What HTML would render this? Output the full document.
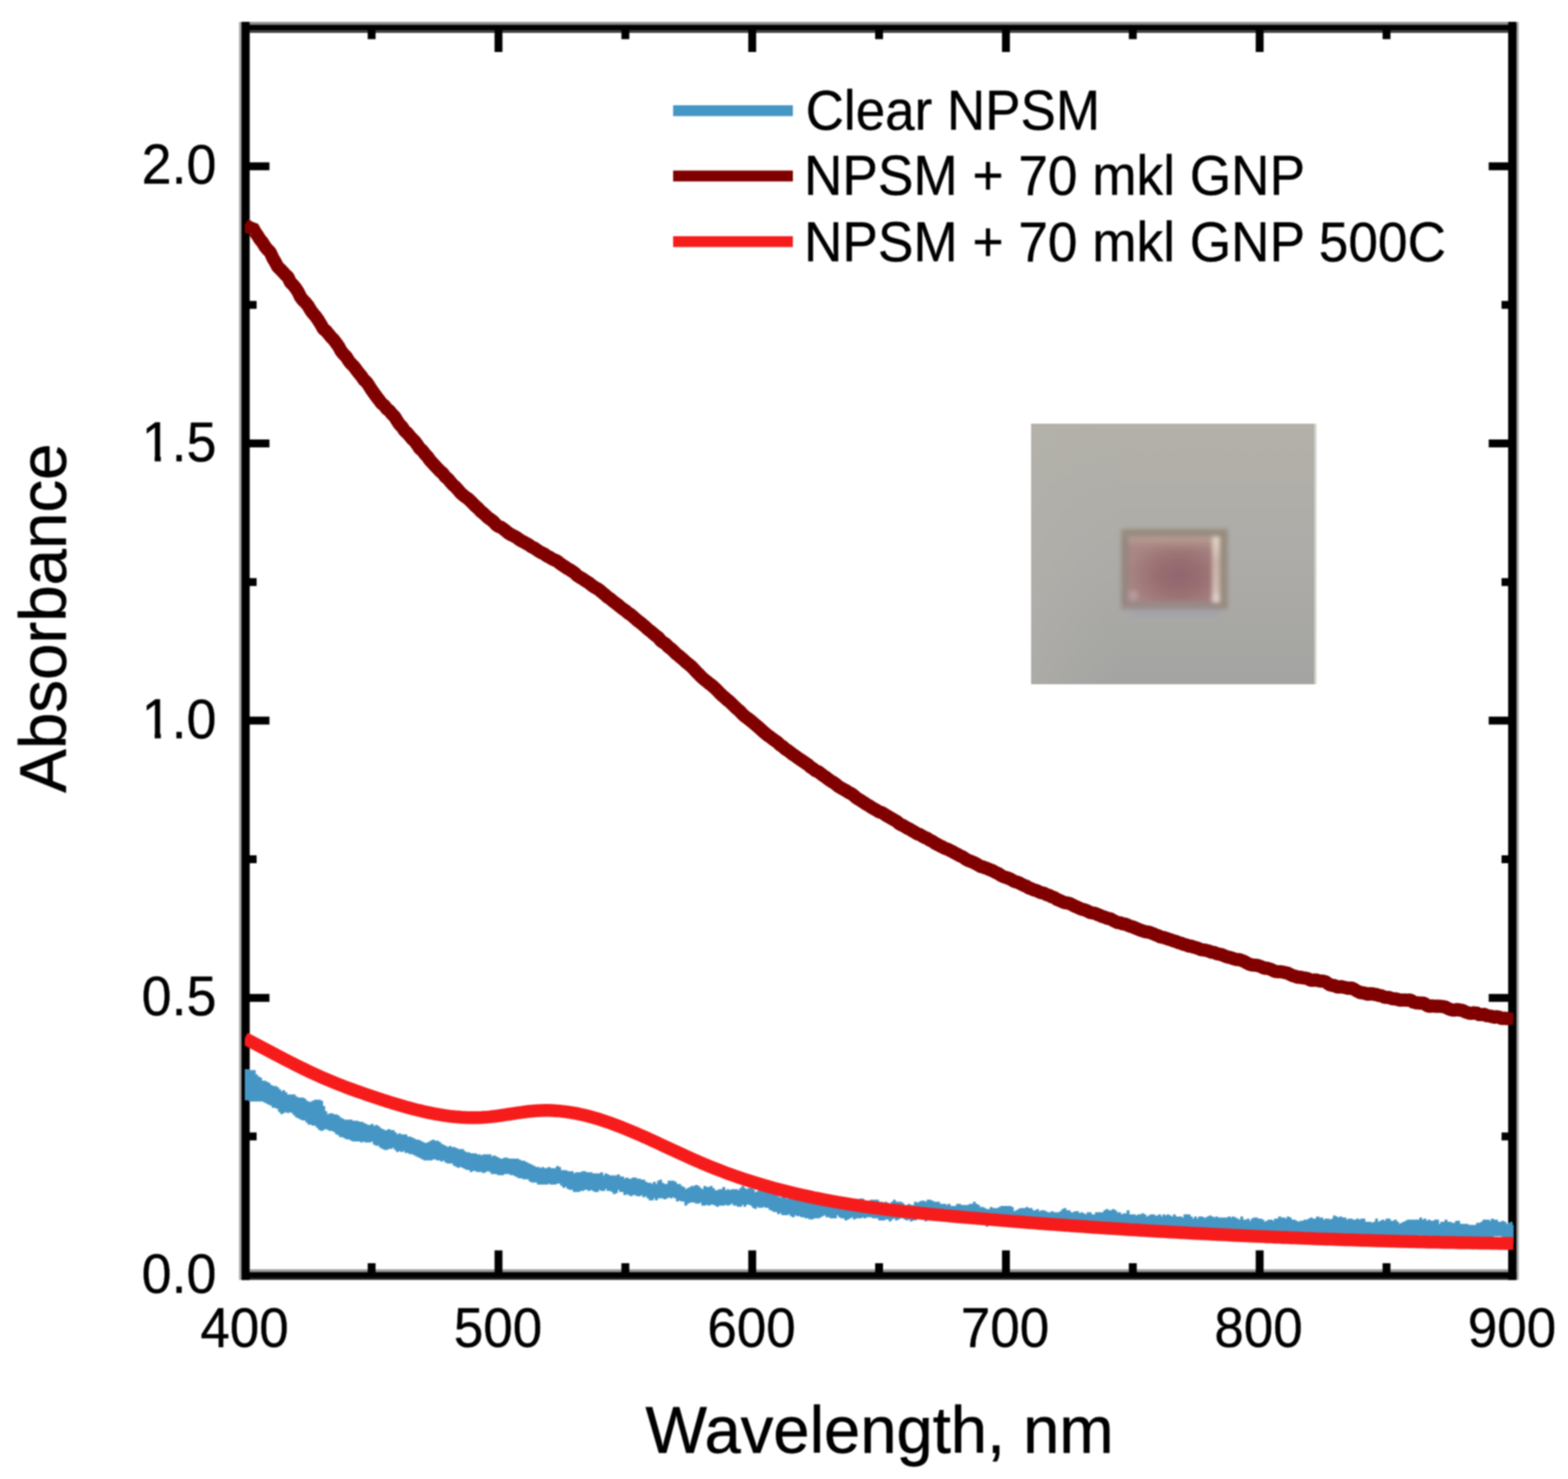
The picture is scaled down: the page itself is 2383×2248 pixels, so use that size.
<!DOCTYPE html>
<html lang="en"><head><meta charset="utf-8"><title>Absorbance vs Wavelength</title>
<style>html,body{margin:0;padding:0;background:#fff}body{width:2383px;height:2248px;overflow:hidden}svg{display:block;filter:blur(1.1px)}text{font-family:"Liberation Sans",sans-serif;fill:#000}</style>
</head><body>
<svg width="2383" height="2248" viewBox="0 0 2383 2248" role="img" aria-label="Absorbance versus wavelength chart">
<rect width="2383" height="2248" fill="#fff"/>
<defs>
<linearGradient id="pg" x1="0" y1="0" x2="0" y2="1"><stop offset="0" stop-color="#b3b1a9"/><stop offset="0.5" stop-color="#adaca8"/><stop offset="1" stop-color="#a4a4a2"/></linearGradient>
<radialGradient id="sg" cx="0.6" cy="0.6" r="0.62"><stop offset="0" stop-color="#90666f"/><stop offset="0.45" stop-color="#9a6f72"/><stop offset="0.8" stop-color="#a27e7d"/><stop offset="1" stop-color="#a98684"/></radialGradient>
<linearGradient id="tg" x1="0" y1="0" x2="0" y2="1"><stop offset="0" stop-color="#b8a296" stop-opacity="1"/><stop offset="0.5" stop-color="#b09088" stop-opacity="0.7"/><stop offset="1" stop-color="#a88484" stop-opacity="0"/></linearGradient>
<linearGradient id="rg" x1="0" y1="0" x2="0" y2="1"><stop offset="0" stop-color="#e4d8c8"/><stop offset="0.4" stop-color="#ccb4aa"/><stop offset="0.8" stop-color="#d2bcb4"/><stop offset="1" stop-color="#e6dad6"/></linearGradient>
<linearGradient id="pg2" x1="0" y1="0" x2="1" y2="0"><stop offset="0" stop-color="#b4b2ac" stop-opacity="0.5"/><stop offset="0.3" stop-color="#b0b0aa" stop-opacity="0"/><stop offset="1" stop-color="#b0b0aa" stop-opacity="0"/></linearGradient>
<filter id="b6" x="-20%" y="-20%" width="140%" height="140%"><feGaussianBlur stdDeviation="3.2"/></filter>
<clipPath id="pc"><rect x="1567" y="644" width="434" height="396"/></clipPath>
<clipPath id="ax"><rect x="372" y="42" width="1928.3" height="1896"/></clipPath>
</defs>
<g id="photo">
<rect x="1567" y="644" width="434" height="396" fill="url(#pg)"/>
<rect x="1567" y="644" width="434" height="396" fill="url(#pg2)"/>
<rect x="1997.5" y="644" width="3.5" height="396" fill="#d6d6d2"/>
<g clip-path="url(#pc)"><g filter="url(#b6)">
<rect x="1718" y="924" width="136" height="12" fill="#a5a1a9"/>
<rect x="1704" y="804" width="162" height="122" fill="#978b7f"/>
<rect x="1704" y="914" width="150" height="12" fill="#9a8989"/>
<rect x="1704" y="817" width="11" height="100" fill="#958680"/>
<rect x="1715" y="816" width="128" height="98" fill="url(#sg)"/>
<rect x="1715" y="816" width="128" height="22" fill="url(#tg)"/>
<rect x="1715" y="898" width="14" height="14" fill="#b39a9c"/>
<rect x="1842.5" y="816" width="11" height="99" fill="url(#rg)"/>
</g></g></g>
<g id="frame">
<rect x="363.3" y="33.4" width="3.9" height="1911.9" fill="#a6a6a6"/>
<rect x="367" y="33.4" width="12.3" height="1911.9" fill="#000"/>
<rect x="2304.3" y="33.4" width="3.9" height="1911.9" fill="#a6a6a6"/>
<rect x="2292.2" y="33.4" width="12.3" height="1911.9" fill="#000"/>
<rect x="367" y="33.4" width="1937.5" height="4.3" fill="#8a8a8a"/>
<rect x="367" y="37.6" width="1937.5" height="8.8" fill="#000"/>
<rect x="367" y="46.2" width="1937.5" height="3.8" fill="#404040"/>
<rect x="367" y="1929.3" width="1937.5" height="4.4" fill="#999"/>
<rect x="367" y="1933.5" width="1937.5" height="8.5" fill="#000"/>
<rect x="367" y="1941.8" width="1937.5" height="3.5" fill="#222"/>
<rect x="367" y="33.4" width="12.3" height="1911.9" fill="#000"/>
<rect x="2292.2" y="33.4" width="12.3" height="1911.9" fill="#000"/>
</g>
<g id="ticks" stroke="#000" stroke-width="12" fill="none">
<line x1="564.8" y1="1938.0" x2="564.8" y2="1920.0"/>
<line x1="564.8" y1="41.5" x2="564.8" y2="59.5"/>
<line x1="757.6" y1="1938.0" x2="757.6" y2="1900.5"/>
<line x1="757.6" y1="41.5" x2="757.6" y2="79.0"/>
<line x1="950.4" y1="1938.0" x2="950.4" y2="1920.0"/>
<line x1="950.4" y1="41.5" x2="950.4" y2="59.5"/>
<line x1="1143.2" y1="1938.0" x2="1143.2" y2="1900.5"/>
<line x1="1143.2" y1="41.5" x2="1143.2" y2="79.0"/>
<line x1="1336.0" y1="1938.0" x2="1336.0" y2="1920.0"/>
<line x1="1336.0" y1="41.5" x2="1336.0" y2="59.5"/>
<line x1="1528.8" y1="1938.0" x2="1528.8" y2="1900.5"/>
<line x1="1528.8" y1="41.5" x2="1528.8" y2="79.0"/>
<line x1="1721.6" y1="1938.0" x2="1721.6" y2="1920.0"/>
<line x1="1721.6" y1="41.5" x2="1721.6" y2="59.5"/>
<line x1="1914.4" y1="1938.0" x2="1914.4" y2="1900.5"/>
<line x1="1914.4" y1="41.5" x2="1914.4" y2="79.0"/>
<line x1="2107.2" y1="1938.0" x2="2107.2" y2="1920.0"/>
<line x1="2107.2" y1="41.5" x2="2107.2" y2="59.5"/>
<line x1="372.0" y1="1727.3" x2="390.0" y2="1727.3"/>
<line x1="2300.0" y1="1727.3" x2="2282.0" y2="1727.3"/>
<line x1="372.0" y1="1516.7" x2="409.5" y2="1516.7"/>
<line x1="2300.0" y1="1516.7" x2="2262.5" y2="1516.7"/>
<line x1="372.0" y1="1306.0" x2="390.0" y2="1306.0"/>
<line x1="2300.0" y1="1306.0" x2="2282.0" y2="1306.0"/>
<line x1="372.0" y1="1095.3" x2="409.5" y2="1095.3"/>
<line x1="2300.0" y1="1095.3" x2="2262.5" y2="1095.3"/>
<line x1="372.0" y1="884.7" x2="390.0" y2="884.7"/>
<line x1="2300.0" y1="884.7" x2="2282.0" y2="884.7"/>
<line x1="372.0" y1="674.0" x2="409.5" y2="674.0"/>
<line x1="2300.0" y1="674.0" x2="2262.5" y2="674.0"/>
<line x1="372.0" y1="463.4" x2="390.0" y2="463.4"/>
<line x1="2300.0" y1="463.4" x2="2282.0" y2="463.4"/>
<line x1="372.0" y1="252.7" x2="409.5" y2="252.7"/>
<line x1="2300.0" y1="252.7" x2="2262.5" y2="252.7"/>
</g>
<g id="curves" clip-path="url(#ax)" fill="none" stroke-linejoin="bevel" stroke-linecap="butt">
<polygon points="372.0,1625.6 375.2,1625.6 375.2,1625.6 378.4,1625.6 378.4,1627.2 381.6,1627.2 381.6,1627.2 384.8,1627.2 384.8,1627.2 388.0,1627.2 388.0,1633.6 391.2,1633.6 391.2,1636.8 394.4,1636.8 394.4,1638.4 397.6,1638.4 397.6,1643.2 400.8,1643.2 400.8,1643.2 404.0,1643.2 404.0,1644.8 407.2,1644.8 407.2,1646.4 410.4,1646.4 410.4,1649.6 413.6,1649.6 413.6,1651.2 416.8,1651.2 416.8,1651.2 420.0,1651.2 420.0,1652.8 423.2,1652.8 423.2,1656.0 426.4,1656.0 426.4,1659.2 429.6,1659.2 429.6,1657.6 432.8,1657.6 432.8,1660.8 436.0,1660.8 436.0,1664.0 439.2,1664.0 439.2,1664.0 442.4,1664.0 442.4,1664.0 445.6,1664.0 445.6,1664.0 448.8,1664.0 448.8,1667.2 452.0,1667.2 452.0,1668.8 455.2,1668.8 455.2,1668.8 458.4,1668.8 458.4,1668.8 461.6,1668.8 461.6,1670.4 464.8,1670.4 464.8,1673.6 468.0,1673.6 468.0,1675.2 471.2,1675.2 471.2,1675.2 474.4,1675.2 474.4,1673.6 477.6,1673.6 477.6,1672.0 480.8,1672.0 480.8,1672.0 484.0,1672.0 484.0,1672.0 487.2,1672.0 487.2,1673.6 490.4,1673.6 490.4,1681.6 493.6,1681.6 493.6,1689.6 496.8,1689.6 496.8,1694.4 500.0,1694.4 500.0,1692.8 503.2,1692.8 503.2,1692.8 506.4,1692.8 506.4,1694.4 509.6,1694.4 509.6,1694.4 512.8,1694.4 512.8,1696.0 516.0,1696.0 516.0,1699.2 519.2,1699.2 519.2,1700.8 522.4,1700.8 522.4,1702.4 525.6,1702.4 525.6,1702.4 528.8,1702.4 528.8,1702.4 532.0,1702.4 532.0,1702.4 535.2,1702.4 535.2,1704.0 538.4,1704.0 538.4,1704.0 541.6,1704.0 541.6,1704.0 544.8,1704.0 544.8,1705.6 548.0,1705.6 548.0,1705.6 551.2,1705.6 551.2,1707.2 554.4,1707.2 554.4,1708.8 557.6,1708.8 557.6,1710.4 560.8,1710.4 560.8,1710.4 564.0,1710.4 564.0,1708.8 567.2,1708.8 567.2,1712.0 570.4,1712.0 570.4,1710.4 573.6,1710.4 573.6,1712.0 576.8,1712.0 576.8,1715.2 580.0,1715.2 580.0,1716.8 583.2,1716.8 583.2,1718.4 586.4,1718.4 586.4,1718.4 589.6,1718.4 589.6,1716.8 592.8,1716.8 592.8,1718.4 596.0,1718.4 596.0,1718.4 599.2,1718.4 599.2,1721.6 602.4,1721.6 602.4,1724.8 605.6,1724.8 605.6,1723.2 608.8,1723.2 608.8,1724.8 612.0,1724.8 612.0,1724.8 615.2,1724.8 615.2,1724.8 618.4,1724.8 618.4,1728.0 621.6,1728.0 621.6,1728.0 624.8,1728.0 624.8,1729.6 628.0,1729.6 628.0,1731.2 631.2,1731.2 631.2,1732.8 634.4,1732.8 634.4,1732.8 637.6,1732.8 637.6,1734.4 640.8,1734.4 640.8,1736.0 644.0,1736.0 644.0,1737.6 647.2,1737.6 647.2,1737.6 650.4,1737.6 650.4,1736.0 653.6,1736.0 653.6,1734.4 656.8,1734.4 656.8,1732.8 660.0,1732.8 660.0,1734.4 663.2,1734.4 663.2,1734.4 666.4,1734.4 666.4,1736.0 669.6,1736.0 669.6,1739.2 672.8,1739.2 672.8,1740.8 676.0,1740.8 676.0,1742.4 679.2,1742.4 679.2,1744.0 682.4,1744.0 682.4,1742.4 685.6,1742.4 685.6,1744.0 688.8,1744.0 688.8,1744.0 692.0,1744.0 692.0,1745.6 695.2,1745.6 695.2,1747.2 698.4,1747.2 698.4,1747.2 701.6,1747.2 701.6,1747.2 704.8,1747.2 704.8,1750.4 708.0,1750.4 708.0,1752.0 711.2,1752.0 711.2,1752.0 714.4,1752.0 714.4,1753.6 717.6,1753.6 717.6,1753.6 720.8,1753.6 720.8,1753.6 724.0,1753.6 724.0,1755.2 727.2,1755.2 727.2,1755.2 730.4,1755.2 730.4,1756.8 733.6,1756.8 733.6,1755.2 736.8,1755.2 736.8,1755.2 740.0,1755.2 740.0,1755.2 743.2,1755.2 743.2,1755.2 746.4,1755.2 746.4,1758.4 749.6,1758.4 749.6,1756.8 752.8,1756.8 752.8,1758.4 756.0,1758.4 756.0,1760.0 759.2,1760.0 759.2,1761.6 762.4,1761.6 762.4,1761.6 765.6,1761.6 765.6,1760.0 768.8,1760.0 768.8,1760.0 772.0,1760.0 772.0,1761.6 775.2,1761.6 775.2,1761.6 778.4,1761.6 778.4,1761.6 781.6,1761.6 781.6,1761.6 784.8,1761.6 784.8,1761.6 788.0,1761.6 788.0,1763.2 791.2,1763.2 791.2,1764.8 794.4,1764.8 794.4,1764.8 797.6,1764.8 797.6,1766.4 800.8,1766.4 800.8,1768.0 804.0,1768.0 804.0,1769.6 807.2,1769.6 807.2,1771.2 810.4,1771.2 810.4,1772.8 813.6,1772.8 813.6,1774.4 816.8,1774.4 816.8,1774.4 820.0,1774.4 820.0,1776.0 823.2,1776.0 823.2,1774.4 826.4,1774.4 826.4,1776.0 829.6,1776.0 829.6,1776.0 832.8,1776.0 832.8,1774.4 836.0,1774.4 836.0,1776.0 839.2,1776.0 839.2,1776.0 842.4,1776.0 842.4,1776.0 845.6,1776.0 845.6,1772.8 848.8,1772.8 848.8,1774.4 852.0,1774.4 852.0,1779.2 855.2,1779.2 855.2,1779.2 858.4,1779.2 858.4,1779.2 861.6,1779.2 861.6,1780.8 864.8,1780.8 864.8,1780.8 868.0,1780.8 868.0,1780.8 871.2,1780.8 871.2,1784.0 874.4,1784.0 874.4,1782.4 877.6,1782.4 877.6,1782.4 880.8,1782.4 880.8,1782.4 884.0,1782.4 884.0,1780.8 887.2,1780.8 887.2,1780.8 890.4,1780.8 890.4,1782.4 893.6,1782.4 893.6,1782.4 896.8,1782.4 896.8,1782.4 900.0,1782.4 900.0,1784.0 903.2,1784.0 903.2,1784.0 906.4,1784.0 906.4,1784.0 909.6,1784.0 909.6,1784.0 912.8,1784.0 912.8,1782.4 916.0,1782.4 916.0,1787.2 919.2,1787.2 919.2,1784.0 922.4,1784.0 922.4,1785.6 925.6,1785.6 925.6,1787.2 928.8,1787.2 928.8,1787.2 932.0,1787.2 932.0,1787.2 935.2,1787.2 935.2,1787.2 938.4,1787.2 938.4,1785.6 941.6,1785.6 941.6,1788.8 944.8,1788.8 944.8,1788.8 948.0,1788.8 948.0,1792.0 951.2,1792.0 951.2,1790.4 954.4,1790.4 954.4,1792.0 957.6,1792.0 957.6,1792.0 960.8,1792.0 960.8,1790.4 964.0,1790.4 964.0,1790.4 967.2,1790.4 967.2,1792.0 970.4,1792.0 970.4,1792.0 973.6,1792.0 973.6,1793.6 976.8,1793.6 976.8,1793.6 980.0,1793.6 980.0,1796.8 983.2,1796.8 983.2,1798.4 986.4,1798.4 986.4,1798.4 989.6,1798.4 989.6,1800.0 992.8,1800.0 992.8,1796.8 996.0,1796.8 996.0,1800.0 999.2,1800.0 999.2,1795.2 1002.4,1795.2 1002.4,1793.6 1005.6,1793.6 1005.6,1798.4 1008.8,1798.4 1008.8,1800.0 1012.0,1800.0 1012.0,1800.0 1015.2,1800.0 1015.2,1795.2 1018.4,1795.2 1018.4,1795.2 1021.6,1795.2 1021.6,1795.2 1024.8,1795.2 1024.8,1796.8 1028.0,1796.8 1028.0,1800.0 1031.2,1800.0 1031.2,1800.0 1034.4,1800.0 1034.4,1803.2 1037.6,1803.2 1037.6,1804.8 1040.8,1804.8 1040.8,1808.0 1044.0,1808.0 1044.0,1806.4 1047.2,1806.4 1047.2,1804.8 1050.4,1804.8 1050.4,1803.2 1053.6,1803.2 1053.6,1803.2 1056.8,1803.2 1056.8,1801.6 1060.0,1801.6 1060.0,1803.2 1063.2,1803.2 1063.2,1806.4 1066.4,1806.4 1066.4,1808.0 1069.6,1808.0 1069.6,1803.2 1072.8,1803.2 1072.8,1804.8 1076.0,1804.8 1076.0,1804.8 1079.2,1804.8 1079.2,1803.2 1082.4,1803.2 1082.4,1806.4 1085.6,1806.4 1085.6,1809.6 1088.8,1809.6 1088.8,1809.6 1092.0,1809.6 1092.0,1808.0 1095.2,1808.0 1095.2,1808.0 1098.4,1808.0 1098.4,1804.8 1101.6,1804.8 1101.6,1809.6 1104.8,1809.6 1104.8,1808.0 1108.0,1808.0 1108.0,1809.6 1111.2,1809.6 1111.2,1808.0 1114.4,1808.0 1114.4,1808.0 1117.6,1808.0 1117.6,1808.0 1120.8,1808.0 1120.8,1809.6 1124.0,1809.6 1124.0,1806.4 1127.2,1806.4 1127.2,1803.2 1130.4,1803.2 1130.4,1806.4 1133.6,1806.4 1133.6,1808.0 1136.8,1808.0 1136.8,1806.4 1140.0,1806.4 1140.0,1806.4 1143.2,1806.4 1143.2,1808.0 1146.4,1808.0 1146.4,1812.8 1149.6,1812.8 1149.6,1811.2 1152.8,1811.2 1152.8,1809.6 1156.0,1809.6 1156.0,1808.0 1159.2,1808.0 1159.2,1808.0 1162.4,1808.0 1162.4,1811.2 1165.6,1811.2 1165.6,1811.2 1168.8,1811.2 1168.8,1812.8 1172.0,1812.8 1172.0,1811.2 1175.2,1811.2 1175.2,1812.8 1178.4,1812.8 1178.4,1816.0 1181.6,1816.0 1181.6,1819.2 1184.8,1819.2 1184.8,1820.8 1188.0,1820.8 1188.0,1819.2 1191.2,1819.2 1191.2,1819.2 1194.4,1819.2 1194.4,1822.4 1197.6,1822.4 1197.6,1822.4 1200.8,1822.4 1200.8,1822.4 1204.0,1822.4 1204.0,1822.4 1207.2,1822.4 1207.2,1822.4 1210.4,1822.4 1210.4,1824.0 1213.6,1824.0 1213.6,1822.4 1216.8,1822.4 1216.8,1820.8 1220.0,1820.8 1220.0,1824.0 1223.2,1824.0 1223.2,1827.2 1226.4,1827.2 1226.4,1827.2 1229.6,1827.2 1229.6,1827.2 1232.8,1827.2 1232.8,1827.2 1236.0,1827.2 1236.0,1825.6 1239.2,1825.6 1239.2,1825.6 1242.4,1825.6 1242.4,1824.0 1245.6,1824.0 1245.6,1824.0 1248.8,1824.0 1248.8,1827.2 1252.0,1827.2 1252.0,1822.4 1255.2,1822.4 1255.2,1825.6 1258.4,1825.6 1258.4,1825.6 1261.6,1825.6 1261.6,1828.8 1264.8,1828.8 1264.8,1825.6 1268.0,1825.6 1268.0,1825.6 1271.2,1825.6 1271.2,1825.6 1274.4,1825.6 1274.4,1825.6 1277.6,1825.6 1277.6,1828.8 1280.8,1828.8 1280.8,1825.6 1284.0,1825.6 1284.0,1827.2 1287.2,1827.2 1287.2,1827.2 1290.4,1827.2 1290.4,1825.6 1293.6,1825.6 1293.6,1824.0 1296.8,1824.0 1296.8,1827.2 1300.0,1827.2 1300.0,1825.6 1303.2,1825.6 1303.2,1824.0 1306.4,1824.0 1306.4,1822.4 1309.6,1822.4 1309.6,1822.4 1312.8,1822.4 1312.8,1825.6 1316.0,1825.6 1316.0,1825.6 1319.2,1825.6 1319.2,1827.2 1322.4,1827.2 1322.4,1824.0 1325.6,1824.0 1325.6,1824.0 1328.8,1824.0 1328.8,1824.0 1332.0,1824.0 1332.0,1824.0 1335.2,1824.0 1335.2,1827.2 1338.4,1827.2 1338.4,1827.2 1341.6,1827.2 1341.6,1828.8 1344.8,1828.8 1344.8,1827.2 1348.0,1827.2 1348.0,1828.8 1351.2,1828.8 1351.2,1830.4 1354.4,1830.4 1354.4,1827.2 1357.6,1827.2 1357.6,1824.0 1360.8,1824.0 1360.8,1827.2 1364.0,1827.2 1364.0,1827.2 1367.2,1827.2 1367.2,1827.2 1370.4,1827.2 1370.4,1828.8 1373.6,1828.8 1373.6,1832.0 1376.8,1832.0 1376.8,1832.0 1380.0,1832.0 1380.0,1830.4 1383.2,1830.4 1383.2,1832.0 1386.4,1832.0 1386.4,1832.0 1389.6,1832.0 1389.6,1827.2 1392.8,1827.2 1392.8,1828.8 1396.0,1828.8 1396.0,1827.2 1399.2,1827.2 1399.2,1825.6 1402.4,1825.6 1402.4,1825.6 1405.6,1825.6 1405.6,1827.2 1408.8,1827.2 1408.8,1824.0 1412.0,1824.0 1412.0,1824.0 1415.2,1824.0 1415.2,1825.6 1418.4,1825.6 1418.4,1827.2 1421.6,1827.2 1421.6,1827.2 1424.8,1827.2 1424.8,1827.2 1428.0,1827.2 1428.0,1830.4 1431.2,1830.4 1431.2,1830.4 1434.4,1830.4 1434.4,1830.4 1437.6,1830.4 1437.6,1832.0 1440.8,1832.0 1440.8,1830.4 1444.0,1830.4 1444.0,1833.6 1447.2,1833.6 1447.2,1833.6 1450.4,1833.6 1450.4,1833.6 1453.6,1833.6 1453.6,1830.4 1456.8,1830.4 1456.8,1830.4 1460.0,1830.4 1460.0,1832.0 1463.2,1832.0 1463.2,1832.0 1466.4,1832.0 1466.4,1832.0 1469.6,1832.0 1469.6,1832.0 1472.8,1832.0 1472.8,1830.4 1476.0,1830.4 1476.0,1830.4 1479.2,1830.4 1479.2,1827.2 1482.4,1827.2 1482.4,1830.4 1485.6,1830.4 1485.6,1832.0 1488.8,1832.0 1488.8,1835.2 1492.0,1835.2 1492.0,1835.2 1495.2,1835.2 1495.2,1836.8 1498.4,1836.8 1498.4,1838.4 1501.6,1838.4 1501.6,1838.4 1504.8,1838.4 1504.8,1835.2 1508.0,1835.2 1508.0,1836.8 1511.2,1836.8 1511.2,1836.8 1514.4,1836.8 1514.4,1836.8 1517.6,1836.8 1517.6,1835.2 1520.8,1835.2 1520.8,1833.6 1524.0,1833.6 1524.0,1833.6 1527.2,1833.6 1527.2,1833.6 1530.4,1833.6 1530.4,1833.6 1533.6,1833.6 1533.6,1833.6 1536.8,1833.6 1536.8,1835.2 1540.0,1835.2 1540.0,1841.6 1543.2,1841.6 1543.2,1840.0 1546.4,1840.0 1546.4,1838.4 1549.6,1838.4 1549.6,1836.8 1552.8,1836.8 1552.8,1836.8 1556.0,1836.8 1556.0,1836.8 1559.2,1836.8 1559.2,1835.2 1562.4,1835.2 1562.4,1836.8 1565.6,1836.8 1565.6,1836.8 1568.8,1836.8 1568.8,1840.0 1572.0,1840.0 1572.0,1840.0 1575.2,1840.0 1575.2,1838.4 1578.4,1838.4 1578.4,1841.6 1581.6,1841.6 1581.6,1840.0 1584.8,1840.0 1584.8,1840.0 1588.0,1840.0 1588.0,1841.6 1591.2,1841.6 1591.2,1843.2 1594.4,1843.2 1594.4,1843.2 1597.6,1843.2 1597.6,1841.6 1600.8,1841.6 1600.8,1843.2 1604.0,1843.2 1604.0,1843.2 1607.2,1843.2 1607.2,1843.2 1610.4,1843.2 1610.4,1841.6 1613.6,1841.6 1613.6,1838.4 1616.8,1838.4 1616.8,1836.8 1620.0,1836.8 1620.0,1840.0 1623.2,1840.0 1623.2,1840.0 1626.4,1840.0 1626.4,1843.2 1629.6,1843.2 1629.6,1843.2 1632.8,1843.2 1632.8,1841.6 1636.0,1841.6 1636.0,1841.6 1639.2,1841.6 1639.2,1844.8 1642.4,1844.8 1642.4,1843.2 1645.6,1843.2 1645.6,1844.8 1648.8,1844.8 1648.8,1846.4 1652.0,1846.4 1652.0,1843.2 1655.2,1843.2 1655.2,1843.2 1658.4,1843.2 1658.4,1846.4 1661.6,1846.4 1661.6,1846.4 1664.8,1846.4 1664.8,1843.2 1668.0,1843.2 1668.0,1843.2 1671.2,1843.2 1671.2,1843.2 1674.4,1843.2 1674.4,1843.2 1677.6,1843.2 1677.6,1840.0 1680.8,1840.0 1680.8,1838.4 1684.0,1838.4 1684.0,1840.0 1687.2,1840.0 1687.2,1840.0 1690.4,1840.0 1690.4,1838.4 1693.6,1838.4 1693.6,1840.0 1696.8,1840.0 1696.8,1843.2 1700.0,1843.2 1700.0,1843.2 1703.2,1843.2 1703.2,1846.4 1706.4,1846.4 1706.4,1844.8 1709.6,1844.8 1709.6,1844.8 1712.8,1844.8 1712.8,1840.0 1716.0,1840.0 1716.0,1846.4 1719.2,1846.4 1719.2,1846.4 1722.4,1846.4 1722.4,1846.4 1725.6,1846.4 1725.6,1848.0 1728.8,1848.0 1728.8,1846.4 1732.0,1846.4 1732.0,1846.4 1735.2,1846.4 1735.2,1844.8 1738.4,1844.8 1738.4,1846.4 1741.6,1846.4 1741.6,1849.6 1744.8,1849.6 1744.8,1848.0 1748.0,1848.0 1748.0,1846.4 1751.2,1846.4 1751.2,1846.4 1754.4,1846.4 1754.4,1848.0 1757.6,1848.0 1757.6,1848.0 1760.8,1848.0 1760.8,1846.4 1764.0,1846.4 1764.0,1849.6 1767.2,1849.6 1767.2,1846.4 1770.4,1846.4 1770.4,1848.0 1773.6,1848.0 1773.6,1846.4 1776.8,1846.4 1776.8,1848.0 1780.0,1848.0 1780.0,1849.6 1783.2,1849.6 1783.2,1846.4 1786.4,1846.4 1786.4,1849.6 1789.6,1849.6 1789.6,1849.6 1792.8,1849.6 1792.8,1849.6 1796.0,1849.6 1796.0,1851.2 1799.2,1851.2 1799.2,1846.4 1802.4,1846.4 1802.4,1846.4 1805.6,1846.4 1805.6,1846.4 1808.8,1846.4 1808.8,1849.6 1812.0,1849.6 1812.0,1852.8 1815.2,1852.8 1815.2,1849.6 1818.4,1849.6 1818.4,1852.8 1821.6,1852.8 1821.6,1849.6 1824.8,1849.6 1824.8,1849.6 1828.0,1849.6 1828.0,1851.2 1831.2,1851.2 1831.2,1851.2 1834.4,1851.2 1834.4,1849.6 1837.6,1849.6 1837.6,1848.0 1840.8,1848.0 1840.8,1849.6 1844.0,1849.6 1844.0,1851.2 1847.2,1851.2 1847.2,1849.6 1850.4,1849.6 1850.4,1851.2 1853.6,1851.2 1853.6,1851.2 1856.8,1851.2 1856.8,1851.2 1860.0,1851.2 1860.0,1851.2 1863.2,1851.2 1863.2,1851.2 1866.4,1851.2 1866.4,1849.6 1869.6,1849.6 1869.6,1851.2 1872.8,1851.2 1872.8,1849.6 1876.0,1849.6 1876.0,1851.2 1879.2,1851.2 1879.2,1852.8 1882.4,1852.8 1882.4,1854.4 1885.6,1854.4 1885.6,1849.6 1888.8,1849.6 1888.8,1854.4 1892.0,1854.4 1892.0,1854.4 1895.2,1854.4 1895.2,1852.8 1898.4,1852.8 1898.4,1856.0 1901.6,1856.0 1901.6,1852.8 1904.8,1852.8 1904.8,1851.2 1908.0,1851.2 1908.0,1851.2 1911.2,1851.2 1911.2,1852.8 1914.4,1852.8 1914.4,1852.8 1917.6,1852.8 1917.6,1854.4 1920.8,1854.4 1920.8,1857.6 1924.0,1857.6 1924.0,1856.0 1927.2,1856.0 1927.2,1854.4 1930.4,1854.4 1930.4,1854.4 1933.6,1854.4 1933.6,1856.0 1936.8,1856.0 1936.8,1852.8 1940.0,1852.8 1940.0,1852.8 1943.2,1852.8 1943.2,1849.6 1946.4,1849.6 1946.4,1851.2 1949.6,1851.2 1949.6,1851.2 1952.8,1851.2 1952.8,1852.8 1956.0,1852.8 1956.0,1849.6 1959.2,1849.6 1959.2,1851.2 1962.4,1851.2 1962.4,1854.4 1965.6,1854.4 1965.6,1854.4 1968.8,1854.4 1968.8,1856.0 1972.0,1856.0 1972.0,1857.6 1975.2,1857.6 1975.2,1856.0 1978.4,1856.0 1978.4,1856.0 1981.6,1856.0 1981.6,1854.4 1984.8,1854.4 1984.8,1854.4 1988.0,1854.4 1988.0,1852.8 1991.2,1852.8 1991.2,1851.2 1994.4,1851.2 1994.4,1852.8 1997.6,1852.8 1997.6,1852.8 2000.8,1852.8 2000.8,1849.6 2004.0,1849.6 2004.0,1851.2 2007.2,1851.2 2007.2,1851.2 2010.4,1851.2 2010.4,1854.4 2013.6,1854.4 2013.6,1852.8 2016.8,1852.8 2016.8,1852.8 2020.0,1852.8 2020.0,1854.4 2023.2,1854.4 2023.2,1852.8 2026.4,1852.8 2026.4,1848.0 2029.6,1848.0 2029.6,1849.6 2032.8,1849.6 2032.8,1851.2 2036.0,1851.2 2036.0,1849.6 2039.2,1849.6 2039.2,1851.2 2042.4,1851.2 2042.4,1851.2 2045.6,1851.2 2045.6,1854.4 2048.8,1854.4 2048.8,1852.8 2052.0,1852.8 2052.0,1852.8 2055.2,1852.8 2055.2,1854.4 2058.4,1854.4 2058.4,1854.4 2061.6,1854.4 2061.6,1852.8 2064.8,1852.8 2064.8,1854.4 2068.0,1854.4 2068.0,1852.8 2071.2,1852.8 2071.2,1852.8 2074.4,1852.8 2074.4,1857.6 2077.6,1857.6 2077.6,1857.6 2080.8,1857.6 2080.8,1857.6 2084.0,1857.6 2084.0,1859.2 2087.2,1859.2 2087.2,1857.6 2090.4,1857.6 2090.4,1852.8 2093.6,1852.8 2093.6,1857.6 2096.8,1857.6 2096.8,1856.0 2100.0,1856.0 2100.0,1854.4 2103.2,1854.4 2103.2,1856.0 2106.4,1856.0 2106.4,1852.8 2109.6,1852.8 2109.6,1852.8 2112.8,1852.8 2112.8,1856.0 2116.0,1856.0 2116.0,1856.0 2119.2,1856.0 2119.2,1854.4 2122.4,1854.4 2122.4,1857.6 2125.6,1857.6 2125.6,1860.8 2128.8,1860.8 2128.8,1859.2 2132.0,1859.2 2132.0,1857.6 2135.2,1857.6 2135.2,1856.0 2138.4,1856.0 2138.4,1854.4 2141.6,1854.4 2141.6,1854.4 2144.8,1854.4 2144.8,1854.4 2148.0,1854.4 2148.0,1854.4 2151.2,1854.4 2151.2,1854.4 2154.4,1854.4 2154.4,1854.4 2157.6,1854.4 2157.6,1851.2 2160.8,1851.2 2160.8,1854.4 2164.0,1854.4 2164.0,1852.8 2167.2,1852.8 2167.2,1856.0 2170.4,1856.0 2170.4,1854.4 2173.6,1854.4 2173.6,1856.0 2176.8,1856.0 2176.8,1856.0 2180.0,1856.0 2180.0,1854.4 2183.2,1854.4 2183.2,1854.4 2186.4,1854.4 2186.4,1860.8 2189.6,1860.8 2189.6,1857.6 2192.8,1857.6 2192.8,1857.6 2196.0,1857.6 2196.0,1854.4 2199.2,1854.4 2199.2,1857.6 2202.4,1857.6 2202.4,1857.6 2205.6,1857.6 2205.6,1859.2 2208.8,1859.2 2208.8,1859.2 2212.0,1859.2 2212.0,1856.0 2215.2,1856.0 2215.2,1856.0 2218.4,1856.0 2218.4,1860.8 2221.6,1860.8 2221.6,1860.8 2224.8,1860.8 2224.8,1860.8 2228.0,1860.8 2228.0,1860.8 2231.2,1860.8 2231.2,1862.4 2234.4,1862.4 2234.4,1862.4 2237.6,1862.4 2237.6,1862.4 2240.8,1862.4 2240.8,1862.4 2244.0,1862.4 2244.0,1859.2 2247.2,1859.2 2247.2,1859.2 2250.4,1859.2 2250.4,1857.6 2253.6,1857.6 2253.6,1854.4 2256.8,1854.4 2256.8,1854.4 2260.0,1854.4 2260.0,1854.4 2263.2,1854.4 2263.2,1856.0 2266.4,1856.0 2266.4,1852.8 2269.6,1852.8 2269.6,1854.4 2272.8,1854.4 2272.8,1854.4 2276.0,1854.4 2276.0,1857.6 2279.2,1857.6 2279.2,1857.6 2282.4,1857.6 2282.4,1856.0 2285.6,1856.0 2285.6,1857.6 2288.8,1857.6 2288.8,1860.8 2292.0,1860.8 2292.0,1859.2 2295.2,1859.2 2295.2,1857.6 2298.4,1857.6 2298.4,1862.4 2300.4,1862.4 2300.4,1889.6 2298.4,1889.6 2298.4,1884.8 2295.2,1884.8 2295.2,1884.8 2292.0,1884.8 2292.0,1884.8 2288.8,1884.8 2288.8,1881.6 2285.6,1881.6 2285.6,1880.0 2282.4,1880.0 2282.4,1878.4 2279.2,1878.4 2279.2,1878.4 2276.0,1878.4 2276.0,1878.4 2272.8,1878.4 2272.8,1878.4 2269.6,1878.4 2269.6,1880.0 2266.4,1880.0 2266.4,1883.2 2263.2,1883.2 2263.2,1883.2 2260.0,1883.2 2260.0,1881.6 2256.8,1881.6 2256.8,1881.6 2253.6,1881.6 2253.6,1883.2 2250.4,1883.2 2250.4,1886.4 2247.2,1886.4 2247.2,1886.4 2244.0,1886.4 2244.0,1889.6 2240.8,1889.6 2240.8,1886.4 2237.6,1886.4 2237.6,1884.8 2234.4,1884.8 2234.4,1881.6 2231.2,1881.6 2231.2,1883.2 2228.0,1883.2 2228.0,1881.6 2224.8,1881.6 2224.8,1883.2 2221.6,1883.2 2221.6,1883.2 2218.4,1883.2 2218.4,1883.2 2215.2,1883.2 2215.2,1881.6 2212.0,1881.6 2212.0,1886.4 2208.8,1886.4 2208.8,1884.8 2205.6,1884.8 2205.6,1886.4 2202.4,1886.4 2202.4,1881.6 2199.2,1881.6 2199.2,1883.2 2196.0,1883.2 2196.0,1881.6 2192.8,1881.6 2192.8,1880.0 2189.6,1880.0 2189.6,1881.6 2186.4,1881.6 2186.4,1878.4 2183.2,1878.4 2183.2,1881.6 2180.0,1881.6 2180.0,1881.6 2176.8,1881.6 2176.8,1881.6 2173.6,1881.6 2173.6,1880.0 2170.4,1880.0 2170.4,1880.0 2167.2,1880.0 2167.2,1880.0 2164.0,1880.0 2164.0,1878.4 2160.8,1878.4 2160.8,1876.8 2157.6,1876.8 2157.6,1878.4 2154.4,1878.4 2154.4,1878.4 2151.2,1878.4 2151.2,1881.6 2148.0,1881.6 2148.0,1880.0 2144.8,1880.0 2144.8,1878.4 2141.6,1878.4 2141.6,1880.0 2138.4,1880.0 2138.4,1878.4 2135.2,1878.4 2135.2,1881.6 2132.0,1881.6 2132.0,1880.0 2128.8,1880.0 2128.8,1881.6 2125.6,1881.6 2125.6,1881.6 2122.4,1881.6 2122.4,1878.4 2119.2,1878.4 2119.2,1878.4 2116.0,1878.4 2116.0,1878.4 2112.8,1878.4 2112.8,1878.4 2109.6,1878.4 2109.6,1880.0 2106.4,1880.0 2106.4,1880.0 2103.2,1880.0 2103.2,1881.6 2100.0,1881.6 2100.0,1881.6 2096.8,1881.6 2096.8,1880.0 2093.6,1880.0 2093.6,1880.0 2090.4,1880.0 2090.4,1883.2 2087.2,1883.2 2087.2,1883.2 2084.0,1883.2 2084.0,1880.0 2080.8,1880.0 2080.8,1881.6 2077.6,1881.6 2077.6,1878.4 2074.4,1878.4 2074.4,1878.4 2071.2,1878.4 2071.2,1876.8 2068.0,1876.8 2068.0,1878.4 2064.8,1878.4 2064.8,1878.4 2061.6,1878.4 2061.6,1880.0 2058.4,1880.0 2058.4,1880.0 2055.2,1880.0 2055.2,1876.8 2052.0,1876.8 2052.0,1876.8 2048.8,1876.8 2048.8,1875.2 2045.6,1875.2 2045.6,1875.2 2042.4,1875.2 2042.4,1876.8 2039.2,1876.8 2039.2,1876.8 2036.0,1876.8 2036.0,1878.4 2032.8,1878.4 2032.8,1876.8 2029.6,1876.8 2029.6,1876.8 2026.4,1876.8 2026.4,1878.4 2023.2,1878.4 2023.2,1880.0 2020.0,1880.0 2020.0,1875.2 2016.8,1875.2 2016.8,1876.8 2013.6,1876.8 2013.6,1881.6 2010.4,1881.6 2010.4,1880.0 2007.2,1880.0 2007.2,1875.2 2004.0,1875.2 2004.0,1875.2 2000.8,1875.2 2000.8,1875.2 1997.6,1875.2 1997.6,1880.0 1994.4,1880.0 1994.4,1875.2 1991.2,1875.2 1991.2,1875.2 1988.0,1875.2 1988.0,1880.0 1984.8,1880.0 1984.8,1880.0 1981.6,1880.0 1981.6,1881.6 1978.4,1881.6 1978.4,1881.6 1975.2,1881.6 1975.2,1880.0 1972.0,1880.0 1972.0,1878.4 1968.8,1878.4 1968.8,1881.6 1965.6,1881.6 1965.6,1878.4 1962.4,1878.4 1962.4,1878.4 1959.2,1878.4 1959.2,1875.2 1956.0,1875.2 1956.0,1875.2 1952.8,1875.2 1952.8,1875.2 1949.6,1875.2 1949.6,1873.6 1946.4,1873.6 1946.4,1875.2 1943.2,1875.2 1943.2,1875.2 1940.0,1875.2 1940.0,1875.2 1936.8,1875.2 1936.8,1876.8 1933.6,1876.8 1933.6,1878.4 1930.4,1878.4 1930.4,1876.8 1927.2,1876.8 1927.2,1878.4 1924.0,1878.4 1924.0,1880.0 1920.8,1880.0 1920.8,1880.0 1917.6,1880.0 1917.6,1880.0 1914.4,1880.0 1914.4,1880.0 1911.2,1880.0 1911.2,1878.4 1908.0,1878.4 1908.0,1876.8 1904.8,1876.8 1904.8,1876.8 1901.6,1876.8 1901.6,1881.6 1898.4,1881.6 1898.4,1876.8 1895.2,1876.8 1895.2,1876.8 1892.0,1876.8 1892.0,1876.8 1888.8,1876.8 1888.8,1873.6 1885.6,1873.6 1885.6,1875.2 1882.4,1875.2 1882.4,1873.6 1879.2,1873.6 1879.2,1875.2 1876.0,1875.2 1876.0,1875.2 1872.8,1875.2 1872.8,1875.2 1869.6,1875.2 1869.6,1873.6 1866.4,1873.6 1866.4,1876.8 1863.2,1876.8 1863.2,1876.8 1860.0,1876.8 1860.0,1876.8 1856.8,1876.8 1856.8,1873.6 1853.6,1873.6 1853.6,1875.2 1850.4,1875.2 1850.4,1873.6 1847.2,1873.6 1847.2,1873.6 1844.0,1873.6 1844.0,1872.0 1840.8,1872.0 1840.8,1873.6 1837.6,1873.6 1837.6,1876.8 1834.4,1876.8 1834.4,1875.2 1831.2,1875.2 1831.2,1875.2 1828.0,1875.2 1828.0,1876.8 1824.8,1876.8 1824.8,1876.8 1821.6,1876.8 1821.6,1878.4 1818.4,1878.4 1818.4,1873.6 1815.2,1873.6 1815.2,1876.8 1812.0,1876.8 1812.0,1873.6 1808.8,1873.6 1808.8,1873.6 1805.6,1873.6 1805.6,1873.6 1802.4,1873.6 1802.4,1873.6 1799.2,1873.6 1799.2,1875.2 1796.0,1875.2 1796.0,1873.6 1792.8,1873.6 1792.8,1873.6 1789.6,1873.6 1789.6,1872.0 1786.4,1872.0 1786.4,1872.0 1783.2,1872.0 1783.2,1872.0 1780.0,1872.0 1780.0,1873.6 1776.8,1873.6 1776.8,1872.0 1773.6,1872.0 1773.6,1872.0 1770.4,1872.0 1770.4,1872.0 1767.2,1872.0 1767.2,1873.6 1764.0,1873.6 1764.0,1872.0 1760.8,1872.0 1760.8,1870.4 1757.6,1870.4 1757.6,1875.2 1754.4,1875.2 1754.4,1873.6 1751.2,1873.6 1751.2,1873.6 1748.0,1873.6 1748.0,1876.8 1744.8,1876.8 1744.8,1875.2 1741.6,1875.2 1741.6,1875.2 1738.4,1875.2 1738.4,1872.0 1735.2,1872.0 1735.2,1872.0 1732.0,1872.0 1732.0,1873.6 1728.8,1873.6 1728.8,1873.6 1725.6,1873.6 1725.6,1872.0 1722.4,1872.0 1722.4,1870.4 1719.2,1870.4 1719.2,1872.0 1716.0,1872.0 1716.0,1868.8 1712.8,1868.8 1712.8,1870.4 1709.6,1870.4 1709.6,1868.8 1706.4,1868.8 1706.4,1868.8 1703.2,1868.8 1703.2,1865.6 1700.0,1865.6 1700.0,1865.6 1696.8,1865.6 1696.8,1864.0 1693.6,1864.0 1693.6,1864.0 1690.4,1864.0 1690.4,1864.0 1687.2,1864.0 1687.2,1867.2 1684.0,1867.2 1684.0,1868.8 1680.8,1868.8 1680.8,1867.2 1677.6,1867.2 1677.6,1865.6 1674.4,1865.6 1674.4,1870.4 1671.2,1870.4 1671.2,1868.8 1668.0,1868.8 1668.0,1868.8 1664.8,1868.8 1664.8,1867.2 1661.6,1867.2 1661.6,1868.8 1658.4,1868.8 1658.4,1868.8 1655.2,1868.8 1655.2,1868.8 1652.0,1868.8 1652.0,1872.0 1648.8,1872.0 1648.8,1872.0 1645.6,1872.0 1645.6,1868.8 1642.4,1868.8 1642.4,1868.8 1639.2,1868.8 1639.2,1865.6 1636.0,1865.6 1636.0,1864.0 1632.8,1864.0 1632.8,1868.8 1629.6,1868.8 1629.6,1867.2 1626.4,1867.2 1626.4,1865.6 1623.2,1865.6 1623.2,1867.2 1620.0,1867.2 1620.0,1865.6 1616.8,1865.6 1616.8,1864.0 1613.6,1864.0 1613.6,1868.8 1610.4,1868.8 1610.4,1870.4 1607.2,1870.4 1607.2,1868.8 1604.0,1868.8 1604.0,1868.8 1600.8,1868.8 1600.8,1867.2 1597.6,1867.2 1597.6,1865.6 1594.4,1865.6 1594.4,1867.2 1591.2,1867.2 1591.2,1864.0 1588.0,1864.0 1588.0,1864.0 1584.8,1864.0 1584.8,1864.0 1581.6,1864.0 1581.6,1864.0 1578.4,1864.0 1578.4,1862.4 1575.2,1862.4 1575.2,1862.4 1572.0,1862.4 1572.0,1862.4 1568.8,1862.4 1568.8,1860.8 1565.6,1860.8 1565.6,1864.0 1562.4,1864.0 1562.4,1860.8 1559.2,1860.8 1559.2,1859.2 1556.0,1859.2 1556.0,1864.0 1552.8,1864.0 1552.8,1860.8 1549.6,1860.8 1549.6,1862.4 1546.4,1862.4 1546.4,1864.0 1543.2,1864.0 1543.2,1862.4 1540.0,1862.4 1540.0,1859.2 1536.8,1859.2 1536.8,1859.2 1533.6,1859.2 1533.6,1859.2 1530.4,1859.2 1530.4,1859.2 1527.2,1859.2 1527.2,1859.2 1524.0,1859.2 1524.0,1857.6 1520.8,1857.6 1520.8,1857.6 1517.6,1857.6 1517.6,1859.2 1514.4,1859.2 1514.4,1862.4 1511.2,1862.4 1511.2,1862.4 1508.0,1862.4 1508.0,1862.4 1504.8,1862.4 1504.8,1862.4 1501.6,1862.4 1501.6,1864.0 1498.4,1864.0 1498.4,1857.6 1495.2,1857.6 1495.2,1854.4 1492.0,1854.4 1492.0,1856.0 1488.8,1856.0 1488.8,1854.4 1485.6,1854.4 1485.6,1854.4 1482.4,1854.4 1482.4,1851.2 1479.2,1851.2 1479.2,1852.8 1476.0,1852.8 1476.0,1852.8 1472.8,1852.8 1472.8,1854.4 1469.6,1854.4 1469.6,1856.0 1466.4,1856.0 1466.4,1854.4 1463.2,1854.4 1463.2,1856.0 1460.0,1856.0 1460.0,1854.4 1456.8,1854.4 1456.8,1856.0 1453.6,1856.0 1453.6,1856.0 1450.4,1856.0 1450.4,1856.0 1447.2,1856.0 1447.2,1856.0 1444.0,1856.0 1444.0,1854.4 1440.8,1854.4 1440.8,1854.4 1437.6,1854.4 1437.6,1854.4 1434.4,1854.4 1434.4,1852.8 1431.2,1852.8 1431.2,1852.8 1428.0,1852.8 1428.0,1849.6 1424.8,1849.6 1424.8,1849.6 1421.6,1849.6 1421.6,1851.2 1418.4,1851.2 1418.4,1854.4 1415.2,1854.4 1415.2,1851.2 1412.0,1851.2 1412.0,1851.2 1408.8,1851.2 1408.8,1856.0 1405.6,1856.0 1405.6,1852.8 1402.4,1852.8 1402.4,1851.2 1399.2,1851.2 1399.2,1849.6 1396.0,1849.6 1396.0,1851.2 1392.8,1851.2 1392.8,1854.4 1389.6,1854.4 1389.6,1854.4 1386.4,1854.4 1386.4,1856.0 1383.2,1856.0 1383.2,1852.8 1380.0,1852.8 1380.0,1854.4 1376.8,1854.4 1376.8,1852.8 1373.6,1852.8 1373.6,1851.2 1370.4,1851.2 1370.4,1851.2 1367.2,1851.2 1367.2,1852.8 1364.0,1852.8 1364.0,1854.4 1360.8,1854.4 1360.8,1851.2 1357.6,1851.2 1357.6,1852.8 1354.4,1852.8 1354.4,1856.0 1351.2,1856.0 1351.2,1852.8 1348.0,1852.8 1348.0,1852.8 1344.8,1852.8 1344.8,1854.4 1341.6,1854.4 1341.6,1854.4 1338.4,1854.4 1338.4,1854.4 1335.2,1854.4 1335.2,1851.2 1332.0,1851.2 1332.0,1851.2 1328.8,1851.2 1328.8,1851.2 1325.6,1851.2 1325.6,1849.6 1322.4,1849.6 1322.4,1849.6 1319.2,1849.6 1319.2,1849.6 1316.0,1849.6 1316.0,1851.2 1312.8,1851.2 1312.8,1849.6 1309.6,1849.6 1309.6,1851.2 1306.4,1851.2 1306.4,1851.2 1303.2,1851.2 1303.2,1851.2 1300.0,1851.2 1300.0,1852.8 1296.8,1852.8 1296.8,1849.6 1293.6,1849.6 1293.6,1851.2 1290.4,1851.2 1290.4,1852.8 1287.2,1852.8 1287.2,1854.4 1284.0,1854.4 1284.0,1851.2 1280.8,1851.2 1280.8,1851.2 1277.6,1851.2 1277.6,1849.6 1274.4,1849.6 1274.4,1846.4 1271.2,1846.4 1271.2,1851.2 1268.0,1851.2 1268.0,1851.2 1264.8,1851.2 1264.8,1851.2 1261.6,1851.2 1261.6,1849.6 1258.4,1849.6 1258.4,1849.6 1255.2,1849.6 1255.2,1846.4 1252.0,1846.4 1252.0,1848.0 1248.8,1848.0 1248.8,1849.6 1245.6,1849.6 1245.6,1851.2 1242.4,1851.2 1242.4,1851.2 1239.2,1851.2 1239.2,1851.2 1236.0,1851.2 1236.0,1852.8 1232.8,1852.8 1232.8,1852.8 1229.6,1852.8 1229.6,1851.2 1226.4,1851.2 1226.4,1851.2 1223.2,1851.2 1223.2,1849.6 1220.0,1849.6 1220.0,1849.6 1216.8,1849.6 1216.8,1848.0 1213.6,1848.0 1213.6,1848.0 1210.4,1848.0 1210.4,1846.4 1207.2,1846.4 1207.2,1849.6 1204.0,1849.6 1204.0,1848.0 1200.8,1848.0 1200.8,1844.8 1197.6,1844.8 1197.6,1846.4 1194.4,1846.4 1194.4,1846.4 1191.2,1846.4 1191.2,1846.4 1188.0,1846.4 1188.0,1843.2 1184.8,1843.2 1184.8,1844.8 1181.6,1844.8 1181.6,1841.6 1178.4,1841.6 1178.4,1841.6 1175.2,1841.6 1175.2,1840.0 1172.0,1840.0 1172.0,1838.4 1168.8,1838.4 1168.8,1835.2 1165.6,1835.2 1165.6,1835.2 1162.4,1835.2 1162.4,1833.6 1159.2,1833.6 1159.2,1835.2 1156.0,1835.2 1156.0,1835.2 1152.8,1835.2 1152.8,1833.6 1149.6,1833.6 1149.6,1836.8 1146.4,1836.8 1146.4,1835.2 1143.2,1835.2 1143.2,1832.0 1140.0,1832.0 1140.0,1830.4 1136.8,1830.4 1136.8,1830.4 1133.6,1830.4 1133.6,1833.6 1130.4,1833.6 1130.4,1830.4 1127.2,1830.4 1127.2,1833.6 1124.0,1833.6 1124.0,1833.6 1120.8,1833.6 1120.8,1832.0 1117.6,1832.0 1117.6,1832.0 1114.4,1832.0 1114.4,1828.8 1111.2,1828.8 1111.2,1830.4 1108.0,1830.4 1108.0,1832.0 1104.8,1832.0 1104.8,1830.4 1101.6,1830.4 1101.6,1832.0 1098.4,1832.0 1098.4,1832.0 1095.2,1832.0 1095.2,1832.0 1092.0,1832.0 1092.0,1833.6 1088.8,1833.6 1088.8,1832.0 1085.6,1832.0 1085.6,1830.4 1082.4,1830.4 1082.4,1830.4 1079.2,1830.4 1079.2,1832.0 1076.0,1832.0 1076.0,1830.4 1072.8,1830.4 1072.8,1832.0 1069.6,1832.0 1069.6,1832.0 1066.4,1832.0 1066.4,1827.2 1063.2,1827.2 1063.2,1828.8 1060.0,1828.8 1060.0,1828.8 1056.8,1828.8 1056.8,1827.2 1053.6,1827.2 1053.6,1827.2 1050.4,1827.2 1050.4,1827.2 1047.2,1827.2 1047.2,1828.8 1044.0,1828.8 1044.0,1832.0 1040.8,1832.0 1040.8,1825.6 1037.6,1825.6 1037.6,1825.6 1034.4,1825.6 1034.4,1824.0 1031.2,1824.0 1031.2,1825.6 1028.0,1825.6 1028.0,1820.8 1024.8,1820.8 1024.8,1819.2 1021.6,1819.2 1021.6,1820.8 1018.4,1820.8 1018.4,1819.2 1015.2,1819.2 1015.2,1820.8 1012.0,1820.8 1012.0,1822.4 1008.8,1822.4 1008.8,1820.8 1005.6,1820.8 1005.6,1820.8 1002.4,1820.8 1002.4,1820.8 999.2,1820.8 999.2,1824.0 996.0,1824.0 996.0,1820.8 992.8,1820.8 992.8,1824.0 989.6,1824.0 989.6,1824.0 986.4,1824.0 986.4,1820.8 983.2,1820.8 983.2,1817.6 980.0,1817.6 980.0,1819.2 976.8,1819.2 976.8,1816.0 973.6,1816.0 973.6,1817.6 970.4,1817.6 970.4,1817.6 967.2,1817.6 967.2,1816.0 964.0,1816.0 964.0,1816.0 960.8,1816.0 960.8,1817.6 957.6,1817.6 957.6,1816.0 954.4,1816.0 954.4,1814.4 951.2,1814.4 951.2,1816.0 948.0,1816.0 948.0,1811.2 944.8,1811.2 944.8,1811.2 941.6,1811.2 941.6,1808.0 938.4,1808.0 938.4,1812.8 935.2,1812.8 935.2,1814.4 932.0,1814.4 932.0,1811.2 928.8,1811.2 928.8,1809.6 925.6,1809.6 925.6,1809.6 922.4,1809.6 922.4,1806.4 919.2,1806.4 919.2,1809.6 916.0,1809.6 916.0,1809.6 912.8,1809.6 912.8,1808.0 909.6,1808.0 909.6,1811.2 906.4,1811.2 906.4,1811.2 903.2,1811.2 903.2,1809.6 900.0,1809.6 900.0,1808.0 896.8,1808.0 896.8,1809.6 893.6,1809.6 893.6,1808.0 890.4,1808.0 890.4,1808.0 887.2,1808.0 887.2,1809.6 884.0,1809.6 884.0,1809.6 880.8,1809.6 880.8,1811.2 877.6,1811.2 877.6,1811.2 874.4,1811.2 874.4,1811.2 871.2,1811.2 871.2,1808.0 868.0,1808.0 868.0,1808.0 864.8,1808.0 864.8,1806.4 861.6,1806.4 861.6,1803.2 858.4,1803.2 858.4,1804.8 855.2,1804.8 855.2,1801.6 852.0,1801.6 852.0,1798.4 848.8,1798.4 848.8,1798.4 845.6,1798.4 845.6,1800.0 842.4,1800.0 842.4,1800.0 839.2,1800.0 839.2,1800.0 836.0,1800.0 836.0,1798.4 832.8,1798.4 832.8,1800.0 829.6,1800.0 829.6,1800.0 826.4,1800.0 826.4,1800.0 823.2,1800.0 823.2,1800.0 820.0,1800.0 820.0,1800.0 816.8,1800.0 816.8,1796.8 813.6,1796.8 813.6,1796.8 810.4,1796.8 810.4,1796.8 807.2,1796.8 807.2,1795.2 804.0,1795.2 804.0,1792.0 800.8,1792.0 800.8,1792.0 797.6,1792.0 797.6,1792.0 794.4,1792.0 794.4,1790.4 791.2,1790.4 791.2,1790.4 788.0,1790.4 788.0,1788.8 784.8,1788.8 784.8,1787.2 781.6,1787.2 781.6,1785.6 778.4,1785.6 778.4,1785.6 775.2,1785.6 775.2,1784.0 772.0,1784.0 772.0,1784.0 768.8,1784.0 768.8,1784.0 765.6,1784.0 765.6,1785.6 762.4,1785.6 762.4,1785.6 759.2,1785.6 759.2,1785.6 756.0,1785.6 756.0,1784.0 752.8,1784.0 752.8,1784.0 749.6,1784.0 749.6,1784.0 746.4,1784.0 746.4,1780.8 743.2,1780.8 743.2,1779.2 740.0,1779.2 740.0,1780.8 736.8,1780.8 736.8,1782.4 733.6,1782.4 733.6,1780.8 730.4,1780.8 730.4,1780.8 727.2,1780.8 727.2,1780.8 724.0,1780.8 724.0,1779.2 720.8,1779.2 720.8,1779.2 717.6,1779.2 717.6,1780.8 714.4,1780.8 714.4,1777.6 711.2,1777.6 711.2,1777.6 708.0,1777.6 708.0,1776.0 704.8,1776.0 704.8,1774.4 701.6,1774.4 701.6,1772.8 698.4,1772.8 698.4,1774.4 695.2,1774.4 695.2,1772.8 692.0,1772.8 692.0,1771.2 688.8,1771.2 688.8,1768.0 685.6,1768.0 685.6,1768.0 682.4,1768.0 682.4,1768.0 679.2,1768.0 679.2,1766.4 676.0,1766.4 676.0,1763.2 672.8,1763.2 672.8,1764.8 669.6,1764.8 669.6,1763.2 666.4,1763.2 666.4,1763.2 663.2,1763.2 663.2,1761.6 660.0,1761.6 660.0,1761.6 656.8,1761.6 656.8,1763.2 653.6,1763.2 653.6,1763.2 650.4,1763.2 650.4,1763.2 647.2,1763.2 647.2,1763.2 644.0,1763.2 644.0,1761.6 640.8,1761.6 640.8,1760.0 637.6,1760.0 637.6,1758.4 634.4,1758.4 634.4,1756.8 631.2,1756.8 631.2,1755.2 628.0,1755.2 628.0,1753.6 624.8,1753.6 624.8,1753.6 621.6,1753.6 621.6,1752.0 618.4,1752.0 618.4,1752.0 615.2,1752.0 615.2,1748.8 612.0,1748.8 612.0,1750.4 608.8,1750.4 608.8,1748.8 605.6,1748.8 605.6,1750.4 602.4,1750.4 602.4,1747.2 599.2,1747.2 599.2,1744.0 596.0,1744.0 596.0,1745.6 592.8,1745.6 592.8,1745.6 589.6,1745.6 589.6,1747.2 586.4,1747.2 586.4,1747.2 583.2,1747.2 583.2,1745.6 580.0,1745.6 580.0,1744.0 576.8,1744.0 576.8,1740.8 573.6,1740.8 573.6,1740.8 570.4,1740.8 570.4,1739.2 567.2,1739.2 567.2,1734.4 564.0,1734.4 564.0,1736.0 560.8,1736.0 560.8,1736.0 557.6,1736.0 557.6,1736.0 554.4,1736.0 554.4,1734.4 551.2,1734.4 551.2,1736.0 548.0,1736.0 548.0,1734.4 544.8,1734.4 544.8,1734.4 541.6,1734.4 541.6,1734.4 538.4,1734.4 538.4,1734.4 535.2,1734.4 535.2,1732.8 532.0,1732.8 532.0,1731.2 528.8,1731.2 528.8,1731.2 525.6,1731.2 525.6,1729.6 522.4,1729.6 522.4,1728.0 519.2,1728.0 519.2,1728.0 516.0,1728.0 516.0,1724.8 512.8,1724.8 512.8,1723.2 509.6,1723.2 509.6,1720.0 506.4,1720.0 506.4,1718.4 503.2,1718.4 503.2,1718.4 500.0,1718.4 500.0,1716.8 496.8,1716.8 496.8,1715.2 493.6,1715.2 493.6,1716.8 490.4,1716.8 490.4,1718.4 487.2,1718.4 487.2,1716.8 484.0,1716.8 484.0,1713.6 480.8,1713.6 480.8,1710.4 477.6,1710.4 477.6,1710.4 474.4,1710.4 474.4,1708.8 471.2,1708.8 471.2,1708.8 468.0,1708.8 468.0,1705.6 464.8,1705.6 464.8,1702.4 461.6,1702.4 461.6,1702.4 458.4,1702.4 458.4,1700.8 455.2,1700.8 455.2,1699.2 452.0,1699.2 452.0,1697.6 448.8,1697.6 448.8,1694.4 445.6,1694.4 445.6,1691.2 442.4,1691.2 442.4,1689.6 439.2,1689.6 439.2,1691.2 436.0,1691.2 436.0,1689.6 432.8,1689.6 432.8,1691.2 429.6,1691.2 429.6,1692.8 426.4,1692.8 426.4,1689.6 423.2,1689.6 423.2,1684.8 420.0,1684.8 420.0,1683.2 416.8,1683.2 416.8,1683.2 413.6,1683.2 413.6,1680.0 410.4,1680.0 410.4,1678.4 407.2,1678.4 407.2,1676.8 404.0,1676.8 404.0,1675.2 400.8,1675.2 400.8,1673.6 397.6,1673.6 397.6,1673.6 394.4,1673.6 394.4,1673.6 391.2,1673.6 391.2,1673.6 388.0,1673.6 388.0,1673.6 384.8,1673.6 384.8,1673.6 381.6,1673.6 381.6,1673.6 378.4,1673.6 378.4,1672.0 375.2,1672.0 375.2,1672.0 372.0,1672.0" fill="#4596c4" stroke="#4596c4" stroke-width="1.2" stroke-linejoin="round"/>
<polyline points="372.0,341.2 375.9,343.8 379.7,346.6 383.6,345.3 387.4,352.0 391.3,357.8 395.1,363.9 399.0,368.5 402.8,374.7 406.7,379.6 410.6,383.3 414.4,391.7 418.3,398.4 422.1,405.6 426.0,409.3 429.8,413.2 433.7,417.6 437.6,421.2 441.4,429.1 445.3,433.0 449.1,437.6 453.0,443.7 456.8,451.5 460.7,456.5 464.5,460.2 468.4,465.1 472.3,471.7 476.1,476.8 480.0,481.3 483.8,486.7 487.7,493.1 491.5,500.1 495.4,502.9 499.2,507.5 503.1,512.3 507.0,516.1 510.8,521.3 514.7,526.6 518.5,533.7 522.4,538.6 526.2,542.2 530.1,548.6 534.0,553.3 537.8,556.9 541.7,562.2 545.5,567.2 549.4,571.9 553.2,577.5 557.1,580.8 560.9,586.4 564.8,592.7 568.7,598.1 572.5,603.4 576.4,608.4 580.2,613.5 584.1,616.3 587.9,621.6 591.8,624.4 595.6,629.2 599.5,632.9 603.4,639.3 607.2,645.0 611.1,649.0 614.9,654.7 618.8,658.1 622.6,662.6 626.5,667.2 630.4,670.8 634.2,676.0 638.1,681.9 641.9,684.9 645.8,690.1 649.6,694.1 653.5,699.6 657.3,703.7 661.2,708.0 665.1,712.2 668.9,716.2 672.8,719.2 676.6,724.6 680.5,727.6 684.3,732.2 688.2,736.7 692.0,740.0 695.9,744.2 699.8,749.0 703.6,752.4 707.5,755.5 711.3,758.0 715.2,761.7 719.0,765.7 722.9,769.5 726.8,772.9 730.6,777.1 734.5,780.2 738.3,783.6 742.2,787.4 746.0,789.8 749.9,792.9 753.7,797.3 757.6,800.1 761.5,801.5 765.3,804.3 769.2,807.3 773.0,810.5 776.9,812.7 780.7,814.6 784.6,816.6 788.4,819.5 792.3,822.0 796.2,823.9 800.0,826.1 803.9,828.2 807.7,831.1 811.6,832.8 815.4,835.4 819.3,838.1 823.2,840.3 827.0,841.9 830.9,845.0 834.7,846.6 838.6,849.2 842.4,851.0 846.3,852.7 850.1,855.7 854.0,858.6 857.9,861.0 861.7,863.7 865.6,865.8 869.4,868.2 873.3,870.9 877.1,874.7 881.0,877.3 884.8,879.3 888.7,882.2 892.6,884.5 896.4,887.1 900.3,890.4 904.1,892.8 908.0,894.8 911.8,897.6 915.7,901.0 919.6,904.1 923.4,907.7 927.3,910.0 931.1,913.4 935.0,916.4 938.8,919.1 942.7,922.5 946.5,925.5 950.4,927.9 954.3,931.6 958.1,933.9 962.0,937.2 965.8,940.5 969.7,943.9 973.5,946.6 977.4,949.9 981.2,953.1 985.1,956.9 989.0,959.6 992.8,963.0 996.7,966.2 1000.5,969.0 1004.4,973.9 1008.2,976.7 1012.1,979.2 1016.0,983.4 1019.8,986.1 1023.7,989.8 1027.5,993.6 1031.4,996.6 1035.2,999.9 1039.1,1003.2 1042.9,1006.8 1046.8,1009.7 1050.7,1013.1 1054.5,1017.0 1058.4,1021.3 1062.2,1025.0 1066.1,1029.1 1069.9,1032.5 1073.8,1035.4 1077.6,1038.8 1081.5,1041.5 1085.4,1045.0 1089.2,1048.6 1093.1,1052.7 1096.9,1056.6 1100.8,1059.8 1104.6,1063.2 1108.5,1066.2 1112.4,1070.0 1116.2,1073.8 1120.1,1077.5 1123.9,1080.5 1127.8,1084.9 1131.6,1088.4 1135.5,1091.3 1139.3,1094.2 1143.2,1097.3 1147.1,1100.7 1150.9,1103.9 1154.8,1107.3 1158.6,1110.7 1162.5,1114.2 1166.3,1117.4 1170.2,1120.0 1174.0,1123.0 1177.9,1125.7 1181.8,1128.4 1185.6,1132.3 1189.5,1134.7 1193.3,1138.4 1197.2,1140.7 1201.0,1143.5 1204.9,1146.7 1208.8,1149.2 1212.6,1152.0 1216.5,1154.6 1220.3,1157.1 1224.2,1159.9 1228.0,1162.4 1231.9,1166.0 1235.7,1168.4 1239.6,1171.7 1243.5,1172.8 1247.3,1175.8 1251.2,1178.9 1255.0,1181.3 1258.9,1184.4 1262.7,1187.1 1266.6,1189.3 1270.4,1192.0 1274.3,1195.4 1278.2,1197.6 1282.0,1199.8 1285.9,1201.9 1289.7,1204.4 1293.6,1206.3 1297.4,1208.9 1301.3,1212.6 1305.2,1215.0 1309.0,1217.3 1312.9,1219.8 1316.7,1222.4 1320.6,1224.6 1324.4,1227.2 1328.3,1229.5 1332.1,1231.4 1336.0,1234.1 1339.9,1235.0 1343.7,1237.3 1347.6,1239.9 1351.4,1241.9 1355.3,1244.3 1359.1,1246.4 1363.0,1248.6 1366.8,1252.1 1370.7,1254.1 1374.6,1256.0 1378.4,1258.5 1382.3,1260.2 1386.1,1262.6 1390.0,1264.7 1393.8,1267.3 1397.7,1268.4 1401.6,1270.9 1405.4,1272.9 1409.3,1274.4 1413.1,1277.1 1417.0,1278.7 1420.8,1281.5 1424.7,1283.5 1428.5,1285.6 1432.4,1287.4 1436.3,1289.6 1440.1,1290.6 1444.0,1292.8 1447.8,1294.6 1451.7,1296.9 1455.5,1298.8 1459.4,1301.0 1463.2,1302.5 1467.1,1305.3 1471.0,1307.6 1474.8,1309.0 1478.7,1310.6 1482.5,1312.4 1486.4,1314.7 1490.2,1316.9 1494.1,1317.8 1498.0,1319.3 1501.8,1320.8 1505.7,1322.4 1509.5,1323.9 1513.4,1326.3 1517.2,1327.8 1521.1,1330.5 1524.9,1332.5 1528.8,1333.6 1532.7,1335.0 1536.5,1336.7 1540.4,1339.2 1544.2,1340.4 1548.1,1341.6 1551.9,1343.6 1555.8,1345.6 1559.6,1347.0 1563.5,1349.5 1567.4,1350.9 1571.2,1352.6 1575.1,1353.7 1578.9,1355.4 1582.8,1357.0 1586.6,1357.7 1590.5,1359.9 1594.4,1360.9 1598.2,1363.0 1602.1,1364.2 1605.9,1366.9 1609.8,1368.4 1613.6,1370.1 1617.5,1371.8 1621.3,1372.4 1625.2,1373.2 1629.1,1375.0 1632.9,1377.2 1636.8,1378.7 1640.6,1380.5 1644.5,1382.2 1648.3,1382.8 1652.2,1384.5 1656.0,1386.7 1659.9,1387.6 1663.8,1388.1 1667.6,1389.8 1671.5,1391.3 1675.3,1393.1 1679.2,1394.1 1683.0,1395.8 1686.9,1396.3 1690.8,1398.5 1694.6,1400.6 1698.5,1402.2 1702.3,1402.6 1706.2,1404.2 1710.0,1404.4 1713.9,1406.3 1717.7,1407.9 1721.6,1408.9 1725.5,1410.7 1729.3,1412.1 1733.2,1413.8 1737.0,1415.0 1740.9,1416.2 1744.7,1416.6 1748.6,1417.7 1752.4,1419.2 1756.3,1420.9 1760.2,1422.3 1764.0,1424.2 1767.9,1424.8 1771.7,1426.0 1775.6,1427.4 1779.4,1428.5 1783.3,1430.0 1787.2,1430.9 1791.0,1432.8 1794.9,1433.6 1798.7,1435.3 1802.6,1436.2 1806.4,1437.9 1810.3,1438.1 1814.1,1439.6 1818.0,1440.5 1821.9,1441.9 1825.7,1443.6 1829.6,1443.9 1833.4,1444.6 1837.3,1445.6 1841.1,1447.3 1845.0,1447.7 1848.8,1449.4 1852.7,1450.2 1856.6,1451.1 1860.4,1452.6 1864.3,1454.3 1868.1,1455.1 1872.0,1456.2 1875.8,1457.5 1879.7,1458.6 1883.6,1458.5 1887.4,1460.0 1891.3,1461.6 1895.1,1463.7 1899.0,1465.8 1902.8,1466.6 1906.7,1467.1 1910.5,1467.2 1914.4,1468.5 1918.3,1470.1 1922.1,1471.8 1926.0,1471.6 1929.8,1472.9 1933.7,1474.4 1937.5,1476.5 1941.4,1476.9 1945.2,1476.9 1949.1,1477.4 1953.0,1478.3 1956.8,1479.0 1960.7,1481.1 1964.5,1482.8 1968.4,1483.9 1972.2,1485.4 1976.1,1485.2 1980.0,1486.3 1983.8,1486.6 1987.7,1487.7 1991.5,1489.7 1995.4,1490.1 1999.2,1489.0 2003.1,1490.5 2006.9,1491.2 2010.8,1491.3 2014.7,1492.4 2018.5,1495.2 2022.4,1497.8 2026.2,1497.3 2030.1,1499.1 2033.9,1500.6 2037.8,1499.4 2041.6,1500.4 2045.5,1501.3 2049.4,1502.5 2053.2,1501.6 2057.1,1502.9 2060.9,1505.5 2064.8,1507.4 2068.6,1509.4 2072.5,1508.6 2076.4,1510.9 2080.2,1511.2 2084.1,1509.6 2087.9,1511.5 2091.8,1511.6 2095.6,1513.1 2099.5,1513.5 2103.3,1515.6 2107.2,1516.0 2111.1,1516.0 2114.9,1517.8 2118.8,1518.3 2122.6,1518.2 2126.5,1520.4 2130.3,1520.0 2134.2,1519.9 2138.0,1520.4 2141.9,1519.9 2145.8,1521.1 2149.6,1524.9 2153.5,1523.9 2157.3,1524.9 2161.2,1524.5 2165.0,1525.2 2168.9,1528.4 2172.8,1529.6 2176.6,1528.8 2180.5,1529.5 2184.3,1529.3 2188.2,1529.5 2192.0,1529.9 2195.9,1530.4 2199.7,1532.4 2203.6,1534.1 2207.5,1535.2 2211.3,1535.3 2215.2,1534.3 2219.0,1535.6 2222.9,1535.6 2226.7,1538.0 2230.6,1539.2 2234.4,1540.3 2238.3,1540.0 2242.2,1538.4 2246.0,1541.1 2249.9,1543.1 2253.7,1541.3 2257.6,1542.6 2261.4,1544.8 2265.3,1543.5 2269.2,1546.5 2273.0,1545.8 2276.9,1545.0 2280.7,1547.7 2284.6,1548.1 2288.4,1547.5 2292.3,1549.2 2296.1,1547.1 2300.0,1550.7" stroke="#800000" stroke-width="20"/>
<polyline points="372.0,1578.3 378.0,1581.4 384.0,1584.5 390.0,1587.7 396.0,1590.9 402.0,1594.0 408.0,1597.2 414.0,1600.4 420.0,1603.5 426.0,1606.7 432.0,1609.8 438.0,1612.9 444.0,1615.9 450.0,1619.0 456.0,1622.0 462.0,1624.9 468.0,1627.8 474.0,1630.6 480.0,1633.4 486.0,1636.1 492.0,1638.8 498.0,1641.3 504.0,1643.8 510.0,1646.3 516.0,1648.7 522.0,1651.0 528.0,1653.3 534.0,1655.5 540.0,1657.7 546.0,1659.8 552.0,1661.9 558.0,1664.0 564.0,1666.0 570.0,1668.0 576.0,1670.0 582.0,1672.0 588.0,1673.9 594.0,1675.8 600.0,1677.6 606.0,1679.4 612.0,1681.2 618.0,1682.9 624.0,1684.5 630.0,1686.1 636.0,1687.6 642.0,1689.0 648.0,1690.4 654.0,1691.6 660.0,1692.8 666.0,1693.9 672.0,1694.9 678.0,1695.8 684.0,1696.6 690.0,1697.3 696.0,1697.8 702.0,1698.3 708.0,1698.6 714.0,1698.8 720.0,1698.8 726.0,1698.7 732.0,1698.5 738.0,1698.1 744.0,1697.6 750.0,1696.9 756.0,1696.2 762.0,1695.3 768.0,1694.4 774.0,1693.5 780.0,1692.6 786.0,1691.7 792.0,1690.8 798.0,1690.0 804.0,1689.3 810.0,1688.7 816.0,1688.2 822.0,1687.9 828.0,1687.8 834.0,1687.8 840.0,1688.0 846.0,1688.4 852.0,1688.9 858.0,1689.6 864.0,1690.4 870.0,1691.3 876.0,1692.4 882.0,1693.7 888.0,1695.1 894.0,1696.5 900.0,1698.2 906.0,1699.9 912.0,1701.7 918.0,1703.7 924.0,1705.7 930.0,1707.9 936.0,1710.1 942.0,1712.4 948.0,1714.8 954.0,1717.2 960.0,1719.7 966.0,1722.3 972.0,1724.9 978.0,1727.5 984.0,1730.2 990.0,1733.0 996.0,1735.7 1002.0,1738.5 1008.0,1741.3 1014.0,1744.1 1020.0,1746.9 1026.0,1749.6 1032.0,1752.4 1038.0,1755.2 1044.0,1757.9 1050.0,1760.6 1056.0,1763.3 1062.0,1765.9 1068.0,1768.5 1074.0,1771.0 1080.0,1773.5 1086.0,1775.9 1092.0,1778.2 1098.0,1780.5 1104.0,1782.8 1110.0,1785.0 1116.0,1787.1 1122.0,1789.2 1128.0,1791.2 1134.0,1793.2 1140.0,1795.1 1146.0,1797.0 1152.0,1798.9 1158.0,1800.7 1164.0,1802.4 1170.0,1804.1 1176.0,1805.8 1182.0,1807.4 1188.0,1809.0 1194.0,1810.5 1200.0,1812.0 1206.0,1813.5 1212.0,1814.9 1218.0,1816.3 1224.0,1817.6 1230.0,1818.9 1236.0,1820.2 1242.0,1821.4 1248.0,1822.6 1254.0,1823.8 1260.0,1824.9 1266.0,1826.0 1272.0,1827.1 1278.0,1828.1 1284.0,1829.1 1290.0,1830.1 1296.0,1831.1 1302.0,1832.0 1308.0,1832.9 1314.0,1833.8 1320.0,1834.6 1326.0,1835.5 1332.0,1836.3 1338.0,1837.1 1344.0,1837.8 1350.0,1838.6 1356.0,1839.3 1362.0,1840.0 1368.0,1840.7 1374.0,1841.4 1380.0,1842.0 1386.0,1842.7 1392.0,1843.3 1398.0,1843.9 1404.0,1844.5 1410.0,1845.1 1416.0,1845.7 1422.0,1846.3 1428.0,1846.8 1434.0,1847.4 1440.0,1847.9 1446.0,1848.5 1452.0,1849.0 1458.0,1849.5 1464.0,1850.1 1470.0,1850.6 1476.0,1851.1 1482.0,1851.6 1488.0,1852.1 1494.0,1852.6 1500.0,1853.1 1506.0,1853.6 1512.0,1854.1 1518.0,1854.6 1524.0,1855.1 1530.0,1855.6 1536.0,1856.1 1542.0,1856.6 1548.0,1857.0 1554.0,1857.5 1560.0,1858.0 1566.0,1858.4 1572.0,1858.9 1578.0,1859.4 1584.0,1859.8 1590.0,1860.3 1596.0,1860.7 1602.0,1861.1 1608.0,1861.6 1614.0,1862.0 1620.0,1862.4 1626.0,1862.9 1632.0,1863.3 1638.0,1863.7 1644.0,1864.1 1650.0,1864.5 1656.0,1865.0 1662.0,1865.4 1668.0,1865.8 1674.0,1866.2 1680.0,1866.6 1686.0,1866.9 1692.0,1867.3 1698.0,1867.7 1704.0,1868.1 1710.0,1868.5 1716.0,1868.9 1722.0,1869.2 1728.0,1869.6 1734.0,1870.0 1740.0,1870.3 1746.0,1870.7 1752.0,1871.0 1758.0,1871.4 1764.0,1871.7 1770.0,1872.1 1776.0,1872.4 1782.0,1872.8 1788.0,1873.1 1794.0,1873.4 1800.0,1873.7 1806.0,1874.1 1812.0,1874.4 1818.0,1874.7 1824.0,1875.0 1830.0,1875.3 1836.0,1875.6 1842.0,1875.9 1848.0,1876.2 1854.0,1876.5 1860.0,1876.8 1866.0,1877.1 1872.0,1877.4 1878.0,1877.7 1884.0,1878.0 1890.0,1878.3 1896.0,1878.5 1902.0,1878.8 1908.0,1879.1 1914.0,1879.3 1920.0,1879.6 1926.0,1879.9 1932.0,1880.1 1938.0,1880.4 1944.0,1880.6 1950.0,1880.9 1956.0,1881.1 1962.0,1881.4 1968.0,1881.6 1974.0,1881.8 1980.0,1882.1 1986.0,1882.3 1992.0,1882.5 1998.0,1882.7 2004.0,1883.0 2010.0,1883.2 2016.0,1883.4 2022.0,1883.6 2028.0,1883.8 2034.0,1884.0 2040.0,1884.2 2046.0,1884.4 2052.0,1884.6 2058.0,1884.8 2064.0,1885.0 2070.0,1885.2 2076.0,1885.3 2082.0,1885.5 2088.0,1885.7 2094.0,1885.9 2100.0,1886.0 2106.0,1886.2 2112.0,1886.4 2118.0,1886.5 2124.0,1886.7 2130.0,1886.9 2136.0,1887.0 2142.0,1887.2 2148.0,1887.3 2154.0,1887.5 2160.0,1887.6 2166.0,1887.7 2172.0,1887.9 2178.0,1888.0 2184.0,1888.1 2190.0,1888.3 2196.0,1888.4 2202.0,1888.5 2208.0,1888.6 2214.0,1888.7 2220.0,1888.9 2226.0,1889.0 2232.0,1889.1 2238.0,1889.2 2244.0,1889.3 2250.0,1889.4 2256.0,1889.5 2262.0,1889.6 2268.0,1889.7 2274.0,1889.8 2280.0,1889.9 2286.0,1889.9 2292.0,1890.0 2298.0,1890.1 2300.0,1890.1" stroke="#f71c1c" stroke-width="19.5"/>
</g>
<g id="xticklabels">
<text transform="translate(371.7,2047.0) scale(0.953,1)" font-size="84.5" text-anchor="middle" stroke="#000" stroke-width="0.5" stroke-linejoin="round">400</text>
<text transform="translate(756.9,2047.0) scale(0.953,1)" font-size="84.5" text-anchor="middle" stroke="#000" stroke-width="0.5" stroke-linejoin="round">500</text>
<text transform="translate(1142.2,2047.0) scale(0.953,1)" font-size="84.5" text-anchor="middle" stroke="#000" stroke-width="0.5" stroke-linejoin="round">600</text>
<text transform="translate(1527.4,2047.0) scale(0.953,1)" font-size="84.5" text-anchor="middle" stroke="#000" stroke-width="0.5" stroke-linejoin="round">700</text>
<text transform="translate(1912.7,2047.0) scale(0.953,1)" font-size="84.5" text-anchor="middle" stroke="#000" stroke-width="0.5" stroke-linejoin="round">800</text>
<text transform="translate(2297.9,2047.0) scale(0.953,1)" font-size="84.5" text-anchor="middle" stroke="#000" stroke-width="0.5" stroke-linejoin="round">900</text>
</g>
<g id="yticklabels">
<text transform="translate(329.0,1964.5) scale(0.9675,1)" font-size="84.5" text-anchor="end" stroke="#000" stroke-width="0.5" stroke-linejoin="round">0.0</text>
<text transform="translate(329.0,1543.2) scale(0.9675,1)" font-size="84.5" text-anchor="end" stroke="#000" stroke-width="0.5" stroke-linejoin="round">0.5</text>
<text transform="translate(329.0,1121.8) scale(0.9675,1)" font-size="84.5" text-anchor="end" stroke="#000" stroke-width="0.5" stroke-linejoin="round">1.0</text>
<rect x="218.5" y="1114.0" width="16.6" height="11" fill="#fff"/>
<rect x="244.4" y="1114.0" width="16.1" height="11" fill="#fff"/>
<text transform="translate(329.0,700.5) scale(0.9675,1)" font-size="84.5" text-anchor="end" stroke="#000" stroke-width="0.5" stroke-linejoin="round">1.5</text>
<rect x="218.5" y="692.7" width="16.6" height="11" fill="#fff"/>
<rect x="244.4" y="692.7" width="16.1" height="11" fill="#fff"/>
<text transform="translate(329.0,279.2) scale(0.9675,1)" font-size="84.5" text-anchor="end" stroke="#000" stroke-width="0.5" stroke-linejoin="round">2.0</text>
</g>
<g id="legend">
<g stroke-width="16.5" fill="none">
<line x1="1023" y1="168.3" x2="1205" y2="168.3" stroke="#4596c4"/>
<line x1="1023" y1="267.6" x2="1205" y2="267.6" stroke="#800000"/>
<line x1="1023" y1="367.3" x2="1205" y2="367.3" stroke="#f71c1c"/>
</g>
<text transform="translate(1224.5,196.8) scale(0.947,1)" font-size="85" text-anchor="start" stroke="#000" stroke-width="0.5" stroke-linejoin="round">Clear NPSM</text>
<text transform="translate(1222.0,296.0) scale(0.951,1)" font-size="85" text-anchor="start" stroke="#000" stroke-width="0.5" stroke-linejoin="round">NPSM + 70 mkl GNP</text>
<text transform="translate(1222.0,396.5) scale(0.951,1)" font-size="85" text-anchor="start" stroke="#000" stroke-width="0.5" stroke-linejoin="round">NPSM + 70 mkl GNP 500C</text>
</g>
<text transform="translate(1336.8,2207.5) scale(0.98,1)" font-size="101" text-anchor="middle" stroke="#000" stroke-width="0.8" stroke-linejoin="round">Wavelength, nm</text>
<text transform="translate(100.0,939.5) rotate(-90) scale(0.985,1)" font-size="101" text-anchor="middle" stroke="#000" stroke-width="0.8" stroke-linejoin="round">Absorbance</text>
</svg>
</body></html>
